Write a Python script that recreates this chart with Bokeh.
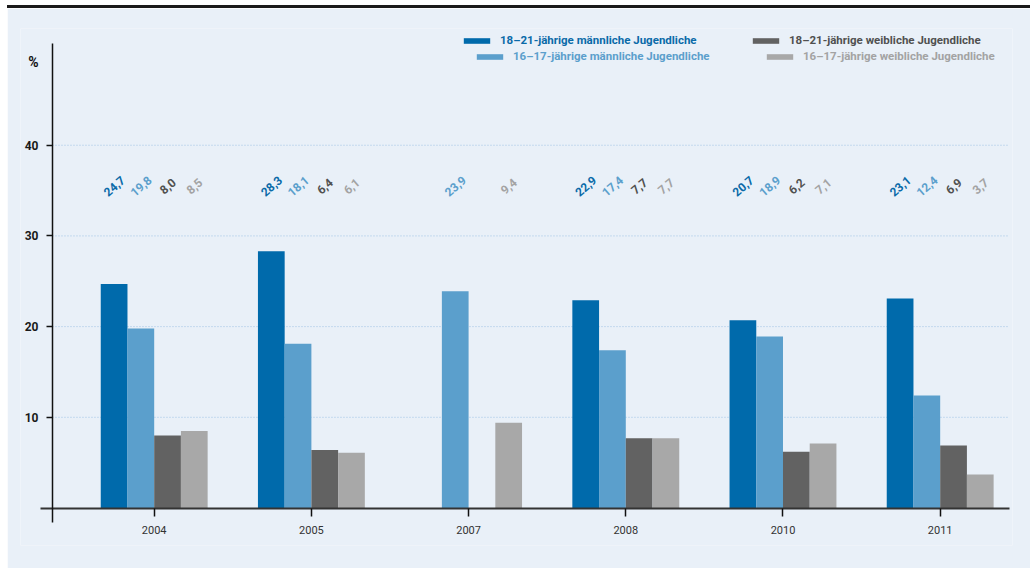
from bokeh.plotting import figure
from bokeh.models import (ColumnDataSource, FixedTicker, Legend, LegendItem,
                          Label, Div, Range1d)
from bokeh.layouts import column
from bokeh.core.properties import value
from bokeh.embed import file_html
from bokeh.resources import INLINE

# ---------------- data ----------------
years = ["2004", "2005", "2007", "2008", "2010", "2011"]
m_18_21 = [24.7, 28.3, None, 22.9, 20.7, 23.1]
m_16_17 = [19.8, 18.1, 23.9, 17.4, 18.9, 12.4]
w_18_21 = [8.0, 6.4, None, 7.7, 6.2, 6.9]
w_16_17 = [8.5, 6.1, 9.4, 7.7, 7.1, 3.7]
series_names = [
    "18–21-jährige männliche Jugendliche",
    "16–17-jährige männliche Jugendliche",
    "18–21-jährige weibliche Jugendliche",
    "16–17-jährige weibliche Jugendliche",
]
y_ticks = [10, 20, 30, 40]

# ---------------- styling ----------------
BG = "#e9f0f8"
FONT = "Roboto"
colors = ["#006aab", "#5b9fcc", "#626262", "#a8a8a8"]
label_colors = ["#0a6aa8", "#5b9fcc", "#505050", "#a3a3a3"]
BAR_W = 0.170
offsets = [-1.5 * BAR_W, -0.5 * BAR_W, 0.5 * BAR_W, 1.5 * BAR_W]
LABEL_Y = 35.5
Y_AXIS_X = -0.647          # where the vertical axis stands
X_END = 5.441               # right end of axis / gridlines

p = figure(width=1023, height=560,
           x_range=Range1d(-0.8505, 5.460), y_range=Range1d(-4.134, 52.87),
           output_backend="svg", toolbar_location=None,
           min_border_left=13, min_border_right=18,
           min_border_top=20, min_border_bottom=23,
           background_fill_color=BG, border_fill_color=BG,
           outline_line_color=None)

# dotted gridlines from the axis to the right end
p.xgrid.grid_line_color = None
p.ygrid.grid_line_color = None
p.segment(x0=[Y_AXIS_X] * len(y_ticks), x1=[X_END] * len(y_ticks),
          y0=y_ticks, y1=y_ticks, line_color="#9fc2e4",
          line_dash="1 2", line_width=1)

all_series = [m_18_21, m_16_17, w_18_21, w_16_17]
renderers = []
for vals, col, lcol, off in zip(all_series, colors, label_colors, offsets):
    xs = [i + off for i, v in enumerate(vals) if v is not None]
    ys = [v for v in vals if v is not None]
    txt = [f"{v:.1f}".replace(".", ",") for v in ys]
    src = ColumnDataSource(dict(x=xs, top=ys, txt=txt, ly=[LABEL_Y] * len(xs)))
    r = p.vbar(x="x", top="top", bottom=0, width=BAR_W, source=src,
               fill_color=col, line_color=None)
    renderers.append(r)
    p.text(x="x", y="ly", text="txt", source=src, angle=0.72,
           text_align="center", text_baseline="middle",
           text_font=value(FONT), text_font_size="12px",
           text_font_style="bold", text_color=lcol)

# y axis
p.yaxis.fixed_location = Y_AXIS_X
p.yaxis.bounds = (-1.6, 51.2)
p.yaxis.ticker = FixedTicker(ticks=y_ticks)
p.yaxis.axis_line_color = "#111111"
p.yaxis.axis_line_width = 1.5
p.yaxis.major_tick_line_color = "#111111"
p.yaxis.major_tick_line_width = 1.5
p.yaxis.major_tick_out = 6
p.yaxis.major_tick_in = 0
p.yaxis.minor_tick_line_color = None
p.yaxis.major_label_standoff = 8
p.yaxis.major_label_text_font = FONT
p.yaxis.major_label_text_font_style = "bold"
p.yaxis.major_label_text_font_size = "12px"
p.yaxis.major_label_text_color = "#1a1a1a"

# x axis
p.xaxis.fixed_location = 0
p.xaxis.bounds = (-0.723, X_END)
p.xaxis.ticker = FixedTicker(ticks=list(range(len(years))))
p.xaxis.major_label_overrides = {i: y for i, y in enumerate(years)}
p.xaxis.axis_line_color = "#333333"
p.xaxis.axis_line_width = 2
p.xaxis.major_tick_line_color = "#111111"
p.xaxis.major_tick_line_width = 1.5
p.xaxis.major_tick_out = 8
p.xaxis.major_tick_in = 0
p.xaxis.minor_tick_line_color = None
p.xaxis.major_label_standoff = 10
p.xaxis.major_label_text_font = FONT
p.xaxis.major_label_text_font_size = "11px"
p.xaxis.major_label_text_color = "#333333"

# "%" label
p.add_layout(Label(x=13, y=484, x_units="screen", y_units="screen", text="%",
                   text_align="center", text_baseline="middle",
                   text_font=FONT, text_font_style="bold",
                   text_font_size="14px", text_color="#111111"))

# legends (four single-item legends, staggered like the original)
leg_pos = [(440, 498), (453, 482), (729, 498), (743, 482)]
for r, name, lcol, pos in zip(renderers, series_names, label_colors, leg_pos):
    lg = Legend(items=[LegendItem(label=name, renderers=[r])], location=pos,
                orientation="horizontal", padding=0, margin=0, spacing=0,
                glyph_width=33, glyph_height=7, label_height=10,
                label_standoff=7, border_line_color=None,
                background_fill_alpha=0,
                label_text_font=FONT, label_text_font_style="bold",
                label_text_font_size="11.5px", label_text_color=lcol,
                label_text_baseline="middle")
    p.add_layout(lg)

top_bar = Div(text="", width=1023, height=3, margin=0,
              styles={"background-color": "#1a1a1a"})
layout = column(top_bar, p, spacing=0, margin=(5, 0, 0, 7))

open("out.html", "w").write(file_html(layout, INLINE))
